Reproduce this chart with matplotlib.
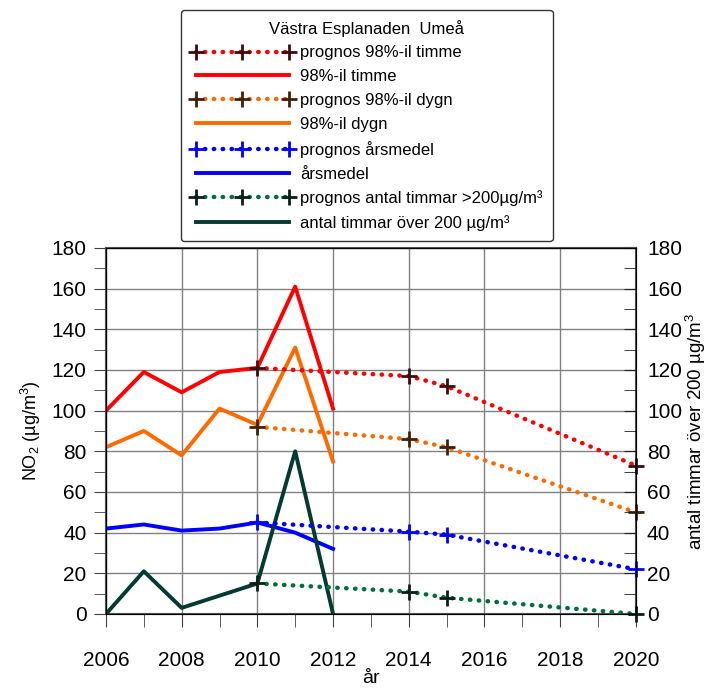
import numpy as np
import matplotlib
matplotlib.use("Agg")
import matplotlib.pyplot as plt
from matplotlib.ticker import MultipleLocator

plt.rcParams['font.family'] = ['Liberation Sans', 'DejaVu Sans']
plt.rcParams['mathtext.fontset'] = 'custom'
plt.rcParams['mathtext.rm'] = 'Liberation Sans'
plt.rcParams['mathtext.it'] = 'Liberation Sans'

# measured values
years = [2006, 2007, 2008, 2009, 2010, 2011, 2012]
timme = [100, 119, 109, 119, 121, 161, 101]
dygn = [82, 90, 78, 101, 93, 131, 75]
arsmedel = [42, 44, 41, 42, 45, 40, 32]
antal = [0, 21, 3, 9, 15, 80, 0]

# prognoses
prog_years = [2010, 2014, 2015, 2020]
prog_timme = [121, 117, 112, 73]
prog_dygn = [92, 86, 82, 50]
prog_arsmedel = [45, 40.5, 39, 22]
prog_antal = [15, 11, 8, 0]

fig = plt.figure(figsize=(7.08, 6.88), dpi=100)
ax = fig.add_axes([0.1497, 0.1076, 0.7483, 0.532])

red = '#ff0000'
orange = '#ff6a00'
blue = '#0000ff'
dgreen = '#053a33'
pgreen = '#00703a'

dot = dict(linestyle=(0, (0.1, 1.9)), dash_capstyle='round', linewidth=3.2,
           marker='+', markersize=11, markeredgewidth=2.0, clip_on=False)

h1, = ax.plot(prog_years, prog_timme, color=red, mec='#3a0d0d', zorder=4, **dot)
h2, = ax.plot(years, timme, color=red, lw=2.8, zorder=3)
h3, = ax.plot(prog_years, prog_dygn, color=orange, mec='#3d220c', zorder=4, **dot)
h4, = ax.plot(years, dygn, color=orange, lw=2.8, zorder=3)
h5, = ax.plot(prog_years, prog_arsmedel, color=blue, mec=blue, zorder=4, **dot)
h6, = ax.plot(years, arsmedel, color=blue, lw=2.8, zorder=3)
h7, = ax.plot(prog_years, prog_antal, color=pgreen, mec='#0a1f18', zorder=4, **dot)
h8, = ax.plot(years, antal, color=dgreen, lw=2.8, zorder=3)

ax.set_xlim(2006, 2020)
ax.set_ylim(0, 180)
ax.xaxis.set_major_locator(MultipleLocator(2))
ax.xaxis.set_minor_locator(MultipleLocator(1))
ax.yaxis.set_major_locator(MultipleLocator(20))
ax.yaxis.set_minor_locator(MultipleLocator(10))
ax.grid(True, which='major', color='#808080', lw=1)
ax.tick_params(axis='both', which='both', direction='out', labelsize=15,
               color='#404040', length=9)
ax.tick_params(axis='x', which='major', pad=18)
ax.tick_params(axis='y', which='major', pad=5)
for s in ax.spines.values():
    s.set_color('#505050')
    s.set_linewidth(1.5)

ax2 = ax.twinx()
ax2.set_ylim(0, 180)
ax2.yaxis.set_major_locator(MultipleLocator(20))
ax2.yaxis.set_minor_locator(MultipleLocator(10))
ax2.tick_params(axis='y', which='both', direction='in', length=9, labelsize=15,
                color='#202020', pad=8)

ax.set_xlabel('år', fontsize=14, labelpad=0)
ax.set_ylabel('NO$_2$ (µg/m$^3$)', fontsize=13, labelpad=6)
ax2.set_ylabel('antal timmar över 200 µg/m$^3$', fontsize=13.5, labelpad=1)

handles = [h1, h2, h3, h4, h5, h6, h7, h8]
labels = ['prognos 98%-il timme', '98%-il timme', 'prognos 98%-il dygn', '98%-il dygn',
          'prognos årsmedel', 'årsmedel', 'prognos antal timmar >200µg/m³',
          'antal timmar över 200 µg/m³']
leg = fig.legend(handles, labels, loc='upper center', bbox_to_anchor=(0.518, 0.986),
                 title='Västra Esplanaden  Umeå', fontsize=12, title_fontsize=12,
                 numpoints=3, handlelength=6.2, handletextpad=0.36, labelspacing=0.53,
                 frameon=True, fancybox=True, edgecolor='black', borderpad=0.6,
                 borderaxespad=0)
leg.get_frame().set_linewidth(1)

fig.savefig('out.png', dpi=100)
